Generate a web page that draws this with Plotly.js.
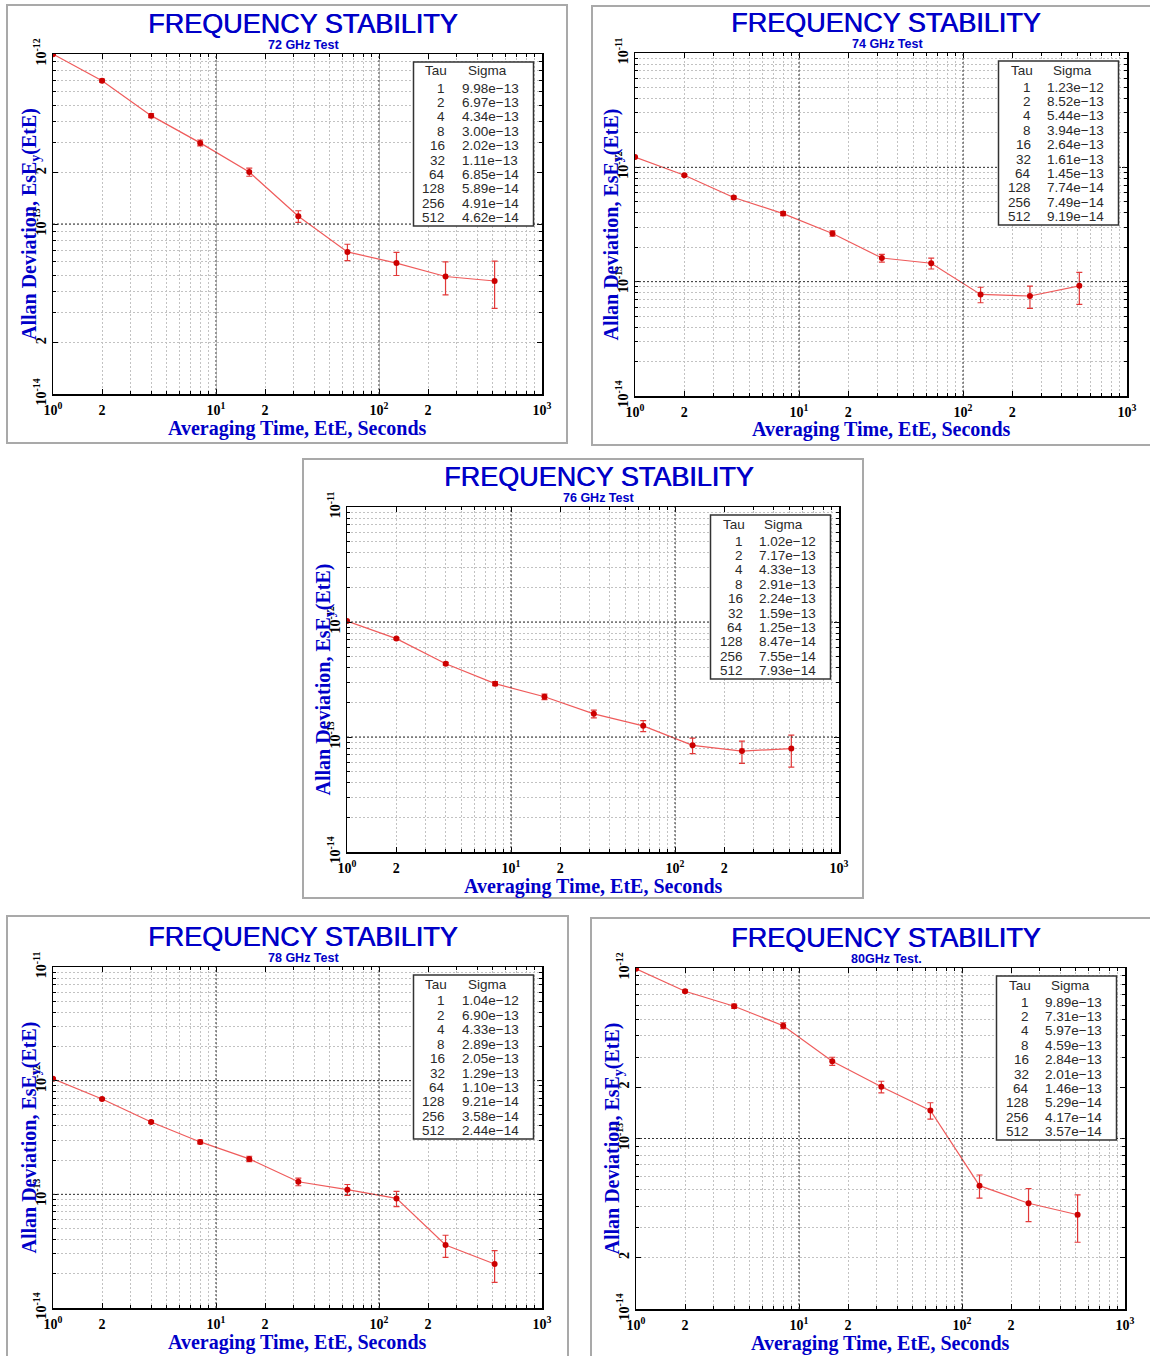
<!DOCTYPE html>
<html><head><meta charset="utf-8">
<script src="https://cdn.plot.ly/plotly-3.0.1.min.js"></script>
<style>html,body{margin:0;padding:0;background:#fff}#chart{width:1150px;height:1356px}</style>
</head><body><div id="chart"></div>
<script>
// ---- data ----
const tau = [1, 2, 4, 8, 16, 32, 64, 128, 256, 512];
const sigma72 = [9.98e-13, 6.97e-13, 4.34e-13, 3.00e-13, 2.02e-13, 1.11e-13, 6.85e-14, 5.89e-14, 4.91e-14, 4.62e-14];
const sigma74 = [1.23e-12, 8.52e-13, 5.44e-13, 3.94e-13, 2.64e-13, 1.61e-13, 1.45e-13, 7.74e-14, 7.49e-14, 9.19e-14];
const sigma76 = [1.02e-12, 7.17e-13, 4.33e-13, 2.91e-13, 2.24e-13, 1.59e-13, 1.25e-13, 8.47e-14, 7.55e-14, 7.93e-14];
const sigma78 = [1.04e-12, 6.90e-13, 4.33e-13, 2.89e-13, 2.05e-13, 1.29e-13, 1.10e-13, 9.21e-14, 3.58e-14, 2.44e-14];
const sigma80 = [9.89e-13, 7.31e-13, 5.97e-13, 4.59e-13, 2.84e-13, 2.01e-13, 1.46e-13, 5.29e-14, 4.17e-14, 3.57e-14];
// relative half-height of the error bars
const relErr = [0.014, 0.02, 0.028, 0.04, 0.055, 0.078, 0.11, 0.155, 0.22, 0.31];
const subtitles = ['72 GHz Test', '74 GHz Test', '76 GHz Test', '78 GHz Test', '80GHz Test.'];
const mainTitle = 'FREQUENCY STABILITY';
const xTitle = 'Averaging Time, EtE, Seconds';
const yTitle = 'Allan Deviation, EsE<sub>y</sub>(EtE)';
// tick labels
const xLabelVals = [1, 2, 10, 20, 100, 200, 1000];
const xLabelText = ['10<sup>0</sup>', '2', '10<sup>1</sup>', '2', '10<sup>2</sup>', '2', '10<sup>3</sup>'];
const yLabelValsA = [1e-14, 2e-14, 1e-13, 2e-13, 1e-12];
const yLabelTextA = ['10<sup>-14</sup>', '2', '10<sup>-13</sup>', '2', '10<sup>-12</sup>'];
const yLabelValsB = [1e-14, 1e-13, 1e-12, 1e-11];
const yLabelTextB = ['10<sup>-14</sup>', '10<sup>-13</sup>', '10<sup>-12</sup>', '10<sup>-11</sup>'];
const mantissas = [1, 2, 3, 4, 5, 6, 7, 8, 9];
const tableHead = ['Tau', 'Sigma'];

// ---- layout geometry (pixels) ----
const W = 1150, H = 1356;
const panels = [
  {sig: sigma72, plot: [53, 54, 542, 394],   frame: [7, 5, 567, 443],     yr: [-14, -12], yv: yLabelValsA, yt: yLabelTextA},
  {sig: sigma74, plot: [635, 53, 1127, 396], frame: [592, 6, 1160, 445],  yr: [-14, -11], yv: yLabelValsB, yt: yLabelTextB},
  {sig: sigma76, plot: [347, 507, 839, 852], frame: [303, 459, 863, 898], yr: [-14, -11], yv: yLabelValsB, yt: yLabelTextB},
  {sig: sigma78, plot: [53, 967, 542, 1308], frame: [7, 916, 568, 1365],  yr: [-14, -11], yv: yLabelValsB, yt: yLabelTextB},
  {sig: sigma80, plot: [636, 968, 1125, 1309], frame: [591, 918, 1160, 1365], yr: [-14, -12], yv: yLabelValsA, yt: yLabelTextA}
];
const px = p => p / W, py = p => 1 - p / H;

// minor positions: every mantissa*decade that carries no label
function minorVals(lo, hi, labelVals) {
  const vals = [];
  for (let e = lo; e < hi; e++) {
    mantissas.forEach(m => {
      const v = m * Math.pow(10, e);
      if (!labelVals.some(l => Math.abs(l - v) / v < 1e-6)) vals.push(v);
    });
  }
  return vals;
}

const BLUE = '#0000c8';
const GRID = '#c2c2c2';
const data = [];
const layout = {
  width: W, height: H, margin: {l: 0, r: 0, t: 0, b: 0},
  paper_bgcolor: '#fff', plot_bgcolor: '#fff', showlegend: false,
  shapes: [], annotations: []
};

panels.forEach((p, i) => {
  const s = i === 0 ? '' : String(i + 1);
  const [L, T, R, B] = p.plot;
  const common = {
    type: 'log', tickmode: 'array', ticks: 'inside', ticklen: 5, tickwidth: 1, tickcolor: '#000',
    showline: true, linecolor: '#000', linewidth: 1.5, mirror: 'ticks',
    showgrid: true, gridcolor: GRID, griddash: '2px,2px', gridwidth: 1, zeroline: false,
    tickfont: {family: 'Liberation Serif', size: 14, color: '#000', weight: 700}, fixedrange: true
  };
  const minorCommon = {ticks: 'inside', ticklen: 3, tickwidth: 1, tickcolor: '#000',
    showgrid: true, gridcolor: GRID, griddash: '2px,2px', gridwidth: 1, tickmode: 'array'};
  layout['xaxis' + s] = Object.assign({}, common, {
    range: [0, 3], domain: [px(L), px(R)], anchor: 'y' + s, tickvals: xLabelVals, ticktext: xLabelText,
    ticklabelstandoff: 3,
    minor: Object.assign({}, minorCommon, {tickvals: minorVals(0, 3, xLabelVals)})
  });
  layout['yaxis' + s] = Object.assign({}, common, {
    range: p.yr, domain: [py(B), py(T)], anchor: 'x' + s, tickvals: p.yv, ticktext: p.yt, tickangle: -90,
    minor: Object.assign({}, minorCommon, {tickvals: minorVals(p.yr[0], p.yr[1], p.yv)})
  });

  data.push({
    x: tau, y: p.sig, xaxis: 'x' + s, yaxis: 'y' + s, type: 'scatter', mode: 'lines+markers',
    line: {color: '#ef5b5b', width: 1.2}, marker: {color: '#cc0000', size: 6},
    error_y: {type: 'data', array: p.sig.map((v, j) => v * relErr[j]), color: '#e23a3a', thickness: 1.2, width: 3},
    hoverinfo: 'skip', showlegend: false
  });

  // frame
  const [fl, ft, fr, fb] = p.frame;
  layout.shapes.push({type: 'rect', xref: 'paper', yref: 'paper', x0: px(fl), x1: px(fr), y0: py(fb), y1: py(ft),
    line: {color: '#a9a9a9', width: 2}, fillcolor: 'rgba(0,0,0,0)', layer: 'below'});
  // decade lines
  [10, 100].forEach(v => layout.shapes.push({type: 'line', xref: 'x' + s, yref: 'y' + s + ' domain',
    x0: v, x1: v, y0: 0, y1: 1, line: {color: '#333', width: 1, dash: '2px,2px'}, layer: 'above'}));
  for (let e = p.yr[0] + 1; e < p.yr[1]; e++) {
    const v = Math.pow(10, e);
    layout.shapes.push({type: 'line', xref: 'x' + s + ' domain', yref: 'y' + s,
      x0: 0, x1: 1, y0: v, y1: v, line: {color: '#333', width: 1, dash: '2px,2px'}, layer: 'above'});
  }
  // table box (in axis-domain fractions)
  const bR = R - 8.5, bL = bR - 120, bT = T + 8, bB = bT + 164;
  const dx = v => (v - L) / (R - L), dy = v => (B - v) / (B - T);
  layout.shapes.push({type: 'rect', xref: 'x' + s + ' domain', yref: 'y' + s + ' domain',
    x0: dx(bL), x1: dx(bR), y0: dy(bB), y1: dy(bT),
    line: {color: '#333', width: 1.5}, fillcolor: '#fff', layer: 'above'});
  const tf = {family: 'Liberation Sans', size: 13.5, color: '#2a2a2a'};
  layout.annotations.push({xref: 'paper', yref: 'paper', x: px(bL + 10), y: py(bT + 9), text: tableHead[0],
    xanchor: 'left', yanchor: 'middle', showarrow: false, font: tf});
  layout.annotations.push({xref: 'paper', yref: 'paper', x: px(bL + 52), y: py(bT + 9), text: tableHead[1],
    xanchor: 'left', yanchor: 'middle', showarrow: false, font: tf});
  tau.forEach((t, j) => {
    const yy = py(bT + 26 + j * 14.4);
    layout.annotations.push({xref: 'paper', yref: 'paper', x: px(bL + 34), y: yy, text: String(t),
      xanchor: 'right', yanchor: 'middle', showarrow: false, font: tf});
    layout.annotations.push({xref: 'paper', yref: 'paper', x: px(bL + 46), y: yy,
      text: p.sig[j].toExponential(2).replace('-', '\u2212'),
      xanchor: 'left', yanchor: 'middle', showarrow: false, font: tf});
  });

  // titles
  const cx = (L + R) / 2;
  layout.annotations.push({xref: 'paper', yref: 'paper', x: px(cx + 5.5), y: py(T - 30), text: mainTitle,
    xanchor: 'center', yanchor: 'middle', showarrow: false,
    font: {family: 'Liberation Sans', size: 27, color: BLUE, shadow: '0.6px 0 0 ' + BLUE}});
  layout.annotations.push({xref: 'paper', yref: 'paper', x: px(cx + 6), y: py(T - 9), text: subtitles[i],
    xanchor: 'center', yanchor: 'middle', showarrow: false, font: {family: 'Liberation Sans', size: 12.5, color: BLUE, weight: 700}});
  layout.annotations.push({xref: 'paper', yref: 'paper', x: px(cx), y: py(B + 34), text: xTitle,
    xanchor: 'center', yanchor: 'middle', showarrow: false, font: {family: 'Liberation Serif', size: 20, color: BLUE, weight: 700}});
  layout.annotations.push({xref: 'paper', yref: 'paper', x: px(L - 23), y: py((T + B) / 2), text: yTitle, textangle: -90,
    xanchor: 'center', yanchor: 'middle', showarrow: false, font: {family: 'Liberation Serif', size: 20, color: BLUE, weight: 700}});
});

Plotly.newPlot('chart', data, layout, {displayModeBar: false, staticPlot: true});
</script>
</body></html>
